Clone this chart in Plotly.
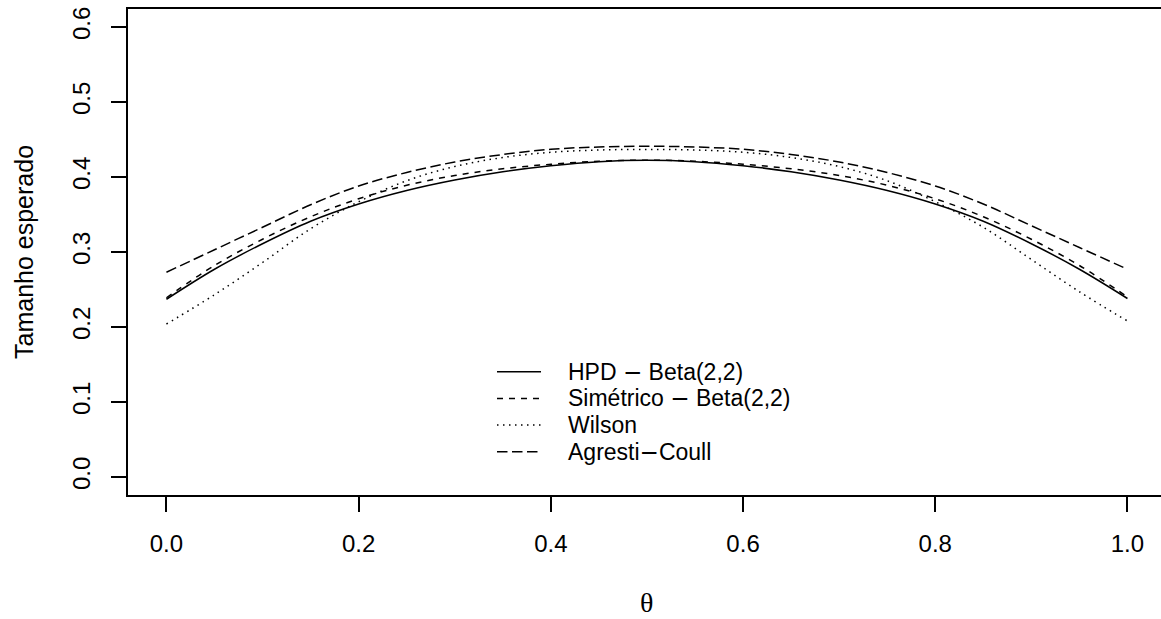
import plotly.graph_objects as go

theta = [0.00, 0.05, 0.10, 0.15, 0.20, 0.25, 0.30, 0.35, 0.40, 0.45, 0.50,
         0.55, 0.60, 0.65, 0.70, 0.75, 0.80, 0.85, 0.90, 0.95, 1.00]

hpd = [0.237, 0.277, 0.311, 0.341, 0.364, 0.382, 0.396, 0.407, 0.415, 0.4205, 0.4223,
       0.4205, 0.415, 0.407, 0.396, 0.382, 0.364, 0.341, 0.311, 0.277, 0.238]
simetrico = [0.239, 0.282, 0.317, 0.347, 0.371, 0.389, 0.402, 0.411, 0.417, 0.421, 0.4225,
             0.421, 0.417, 0.411, 0.402, 0.389, 0.371, 0.347, 0.317, 0.282, 0.240]
wilson = [0.204, 0.243, 0.286, 0.331, 0.367, 0.395, 0.414, 0.426, 0.433, 0.436, 0.4368,
          0.436, 0.433, 0.426, 0.414, 0.395, 0.367, 0.333, 0.290, 0.247, 0.208]
agresti = [0.273, 0.303, 0.333, 0.363, 0.388, 0.406, 0.420, 0.430, 0.437, 0.440, 0.441,
           0.440, 0.437, 0.430, 0.420, 0.406, 0.388, 0.364, 0.335, 0.306, 0.277]

x_ticks = [0.0, 0.2, 0.4, 0.6, 0.8, 1.0]
x_labels = ["0.0", "0.2", "0.4", "0.6", "0.8", "1.0"]
y_ticks = [0.0, 0.1, 0.2, 0.3, 0.4, 0.5, 0.6]
y_labels = ["0.0", "0.1", "0.2", "0.3", "0.4", "0.5", "0.6"]

MINUS = '<span style="font-family:DejaVu Sans">\u2212</span>'
names = ["HPD " + MINUS + " Beta(2,2)", "Sim\u00e9trico " + MINUS + " Beta(2,2)",
         "Wilson", "Agresti" + MINUS + "Coull"]
series = [hpd, simetrico, wilson, agresti]
dashes = ["solid", "6px,6px", "1.5px,4.5px", "10.5px,4.5px"]

FONT = "Liberation Sans, Arial, sans-serif"
W, H = 1161, 619
ML, MR, MT, MB = 128, 0, 9, 124
PW, PH = W - ML - MR, H - MT - MB

fig = go.Figure()
for nm, ys, d in zip(names, series, dashes):
    fig.add_trace(go.Scatter(x=theta, y=ys, mode="lines", name=nm,
                             line=dict(color="black", width=1.5, dash=d, shape="spline", smoothing=1.0),
                             showlegend=False))

# manual legend (bty = "n")
leg_y0 = 371.7
leg_dy = 26.7
for i, (nm, d) in enumerate(zip(names, dashes)):
    yp = leg_y0 + i * leg_dy
    yf = 1 - (yp - MT) / PH
    fig.add_shape(type="line", xref="paper", yref="paper",
                  x0=(497 - ML) / PW, x1=(541 - ML) / PW,
                  y0=yf, y1=yf, line=dict(color="black", width=1.5, dash=d))
    fig.add_annotation(xref="paper", yref="paper", x=(566 - ML) / PW, y=yf,
                       text=nm, showarrow=False, xanchor="left", yanchor="middle",
                       font=dict(family=FONT, size=23, color="black"))

# axis titles
fig.add_annotation(xref="paper", yref="paper", x=(646.5 - ML) / PW,
                   y=1 - (602 - MT) / PH, text="\u03b8", showarrow=False,
                   xanchor="center", yanchor="middle",
                   font=dict(family="Liberation Serif, DejaVu Serif, serif", size=28, color="black"))
fig.add_annotation(xref="paper", yref="paper", x=(24 - ML) / PW, y=0.5,
                   text="Tamanho esperado", showarrow=False, textangle=-90,
                   xanchor="center", yanchor="middle",
                   font=dict(family=FONT, size=25, color="black"))

fig.update_layout(
    width=W, height=H,
    margin=dict(l=ML, r=MR, t=MT, b=MB, pad=0),
    plot_bgcolor="white", paper_bgcolor="white",
    font=dict(family=FONT, size=24, color="black"),
    xaxis=dict(range=[-0.04, 1.0349], tickvals=x_ticks, ticktext=x_labels,
               showgrid=False, zeroline=False, showline=True, linecolor="black",
               linewidth=1.5, mirror=True, ticks="outside", ticklen=15, tickwidth=1.5,
               tickcolor="black", ticklabelstandoff=11,
               tickfont=dict(family=FONT, size=24, color="black")),
    yaxis=dict(range=[-0.024, 0.624], tickvals=y_ticks, ticktext=y_labels,
               showgrid=False, zeroline=False, showline=True, linecolor="black",
               linewidth=1.5, mirror=False, ticks="outside", ticklen=15, tickwidth=1.5,
               tickcolor="black", tickangle=-90, ticklabelstandoff=12,
               tickfont=dict(family=FONT, size=24, color="black")),
)

fig.write_html("out.html")
